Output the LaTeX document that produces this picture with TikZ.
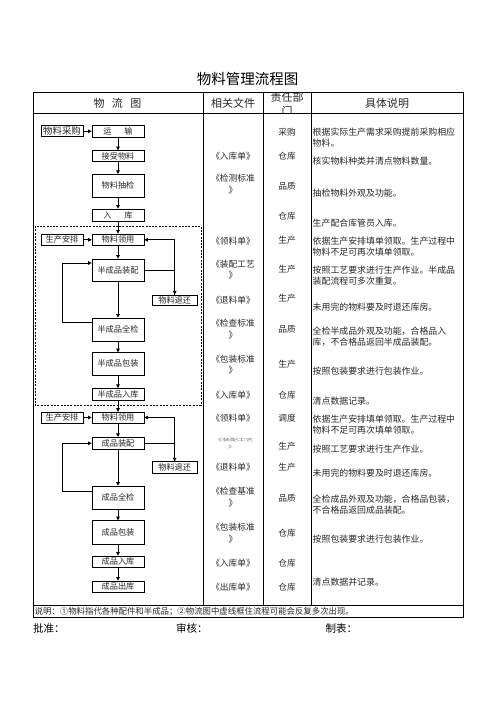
\documentclass[tikz,border=0pt]{standalone}
\usepackage{fontspec}
\setmainfont{Noto Sans CJK SC}
\usetikzlibrary{arrows.meta}
\newcommand\fsbox{\fontsize{8.2}{10}\selectfont}
\newcommand\fsbig{\fontsize{9.4}{11}\selectfont}
\newcommand\fsdoc{\fontsize{8.7}{11.8}\selectfont}
\newcommand\fsdesc{\fontsize{8.9}{10.8}\selectfont}
\newcommand\fshead{\fontsize{11}{13}\selectfont}
\newcommand\fstitle{\fontsize{14.5}{17}\selectfont}
\newcommand\fsnote{\fontsize{8.4}{10}\selectfont}
\newcommand\fssign{\fontsize{10.5}{12}\selectfont}
\begin{document}
\begin{tikzpicture}[x=1pt,y=-1pt,
  fb/.style={draw, line width=0.7pt, minimum width=52pt, inner sep=0pt, font=\fsbox, text=black!85},
  arr/.style={line width=0.7pt, -{Triangle[length=3.6pt,width=3.6pt]}},
  tab/.style={line width=0.8pt},
  dbox/.style={line width=0.7pt, dash pattern=on 2pt off 1.3pt},
  hd/.style={font=\fshead, inner sep=0pt, text=black!85},
  doc/.style={font=\fsdoc, inner sep=0pt, align=center, text=black!85},
  dep/.style={font=\fsdoc, inner sep=0pt, text=black!85},
  desc/.style={font=\fsdesc, inner sep=0pt, anchor=west, align=left, text=black!85}]
\useasboundingbox (0,0) rectangle (496,702);

% title
\node[font=\fstitle, inner sep=0pt] (title) at (247.5,78.5) {物料管理流程图};

% table frame
\draw[tab] (33,92) rectangle (463,617);
\draw[tab] (33,113) -- (463,113);
\draw[tab] (33,605) -- (463,605);
\draw[tab] (203,92) -- (203,605);
\draw[tab] (263,92) -- (263,605);
\draw[tab] (311,92) -- (311,605);

% header
\node[hd] (h1) at (117.5,103) {物\hspace{7.5pt}流\hspace{7.5pt}图};
\node[hd] (h2) at (233,103) {相关文件};
\node[hd] (h4) at (387,103) {具体说明};
\begin{scope}
  \clip (263.5,92.5) rectangle (310.5,112.5);
  \node[hd] (h3a) at (287,97) {责任部};
  \node[hd] (h3b) at (287,111.5) {门};
\end{scope}

% dashed frame
\draw[dbox] (35,226) rectangle (201,405);

% flow boxes
\node[fb, minimum width=42pt, minimum height=11pt, font=\fsbig] (cg) at (62,131.3) {物料采购};
\node[fb, minimum height=12pt] (ys) at (118,131.3) {运\hspace{13pt}输};
\node[fb, minimum height=10.7pt] (js) at (118,156) {接受物料};
\node[fb, minimum height=23pt] (cj) at (118,185.8) {物料抽检};
\node[fb, minimum height=12pt] (rk) at (118,215) {入\hspace{13pt}库};

\node[fb, minimum width=42pt, minimum height=11.7pt] (ap1) at (62,239.8) {生产安排};
\node[fb, minimum height=11.7pt] (ly1) at (118,239.8) {物料领用};
\node[fb, minimum height=22pt] (zp1) at (118,270) {半成品装配};
\node[fb, minimum width=45pt, minimum height=10.7pt] (th1) at (174.7,300.2) {物料退还};
\node[fb, minimum height=23pt] (qj1) at (118,329.5) {半成品全检};
\node[fb, minimum height=22.3pt] (bz1) at (118,363.8) {半成品包装};
\node[fb, minimum height=11.7pt] (rk1) at (118,394.2) {半成品入库};

\node[fb, minimum width=42pt, minimum height=10.7pt] (ap2) at (62,417.5) {生产安排};
\node[fb, minimum height=10.7pt] (ly2) at (118,417.5) {物料领用};
\node[fb, minimum height=12pt] (zp2) at (118,443.3) {成品装配};
\node[fb, minimum width=45pt, minimum height=11.6pt] (th2) at (174.7,467.5) {物料退还};
\node[fb, minimum height=23.3pt] (qj2) at (118,497.7) {成品全检};
\node[fb, minimum height=23.3pt] (bz2) at (118,532.3) {成品包装};
\node[fb, minimum height=11.7pt] (rk2) at (118,561.8) {成品入库};
\node[fb, minimum height=11.7pt] (ck2) at (118,586.8) {成品出库};

% straight arrows
\draw[arr] (cg) -- (ys);
\draw[arr] (ys) -- (js);
\draw[arr] (js) -- (cj);
\draw[arr] (cj) -- (rk);
\draw[arr] (rk) -- (ly1);
\draw[arr] (ap1) -- (ly1);
\draw[arr] (ly1) -- (zp1);
\draw[arr] (zp1) -- (qj1);
\draw[arr] (qj1) -- (bz1);
\draw[arr] (bz1) -- (rk1);
\draw[arr] (rk1) -- (ly2);
\draw[arr] (ap2) -- (ly2);
\draw[arr] (ly2) -- (zp2);
\draw[arr] (zp2) -- (qj2);
\draw[arr] (qj2) -- (bz2);
\draw[arr] (bz2) -- (rk2);
\draw[arr] (rk2) -- (ck2);

% right loops (return of material)
\draw[arr] (zp1.east) -| (th1.north);
\draw[arr] (th1.north) |- (ly1.east);
\draw[arr] (zp2.east) -| (th2.north);
\draw[arr] (th2.north) |- (ly2.east);

% left loops (rework)
\coordinate (L1t) at (62,263);
\coordinate (L1b) at (62,322.5);
\draw[arr] (qj1.west |- L1b) -- (L1b) -- (L1t) -- (zp1.west |- L1t);
\coordinate (L2t) at (62,443.3);
\coordinate (L2b) at (62,491.7);
\draw[arr] (qj2.west |- L2b) -- (L2b) -- (L2t) -- (zp2.west);

% column 2: documents
\node[doc] (c1) at (233,156.5) {《入库单》};
\node[doc] (c2) at (233,184.3) {《检测标准\\》};
\node[doc] (c3) at (233,240.7) {《领料单》};
\node[doc] (c4) at (233,269.6) {《装配工艺\\》};
\node[doc] (c5) at (233,299.7) {《退料单》};
\node[doc] (c6) at (233,329.5) {《检查标准\\》};
\node[doc] (c7) at (233,364.7) {《包装标准\\》};
\node[doc] (c8) at (233,395) {《入库单》};
\node[doc] (c9) at (233,418.3) {《领料单》};
\node[doc, text=black!55] (c10a) at (234,440) {\scalebox{0.9}[0.45]{《装配工艺}};
\node[doc, text=black!55] (c10b) at (232,447.5) {\scalebox{0.9}[0.45]{》}};
\node[doc] (c11) at (233,467) {《退料单》};
\node[doc] (c12) at (233,497.2) {《检查基准\\》};
\node[doc] (c13) at (233,533) {《包装标准\\》};
\node[doc] (c14) at (233,563.3) {《入库单》};
\node[doc] (c15) at (233,587.3) {《出库单》};

% column 3: departments
\node[dep] (d1) at (287,131.7) {采购};
\node[dep] (d2) at (287,156.7) {仓库};
\node[dep] (d3) at (287,186) {品质};
\node[dep] (d4) at (287,216) {仓库};
\node[dep] (d5) at (287,240.7) {生产};
\node[dep] (d6) at (287,269.7) {生产};
\node[dep] (d7) at (287,298) {生产};
\node[dep] (d8) at (287,329) {品质};
\node[dep] (d9) at (287,364.5) {生产};
\node[dep] (d10) at (287,395) {仓库};
\node[dep] (d11) at (287,418) {调度};
\node[dep] (d12) at (287,446) {生产};
\node[dep] (d13) at (287,467) {生产};
\node[dep] (d14) at (287,498) {品质};
\node[dep] (d15) at (287,533) {仓库};
\node[dep] (d16) at (287,563) {仓库};
\node[dep] (d17) at (287,587) {仓库};

% column 4: descriptions
\node[desc] (e1) at (312.5,137.3) {根据实际生产需求采购提前采购相应\\物料。};
\node[desc] (e2) at (312.5,161.5) {核实物料种类并清点物料数量。};
\node[desc] (e3) at (312.5,193) {抽检物料外观及功能。};
\node[desc] (e4) at (312.5,223) {生产配合库管员入库。};
\node[desc] (e5) at (312.5,246.6) {依据生产安排填单领取。生产过程中\\物料不足可再次填单领取。};
\node[desc] (e6) at (312.5,275.7) {按照工艺要求进行生产作业。半成品\\装配流程可多次重复。};
\node[desc] (e7) at (312.5,307.5) {未用完的物料要及时退还库房。};
\node[desc] (e8) at (312.5,336.3) {全检半成品外观及功能，合格品入\\库，不合格品返回半成品装配。};
\node[desc] (e9) at (312.5,371.5) {按照包装要求进行包装作业。};
\node[desc] (e10) at (312.5,401) {清点数据记录。};
\node[desc] (e11) at (312.5,425) {依据生产安排填单领取。生产过程中\\物料不足可再次填单领取。};
\node[desc] (e12) at (312.5,449.3) {按照工艺要求进行生产作业。};
\node[desc] (e13) at (312.5,473.3) {未用完的物料要及时退还库房。};
\node[desc] (e14) at (312.5,504.3) {全检成品外观及功能，合格品包装，\\不合格品返回成品装配。};
\node[desc] (e15) at (312.5,539.3) {按照包装要求进行包装作业。};
\node[desc] (e16) at (312.5,581.7) {清点数据并记录。};

% note and signatures
\node[font=\fsnote, inner sep=0pt, anchor=west, text=black!85] (note) at (34.5,611.2) {说明：①物料指代各种配件和半成品；②物流图中虚线框住流程可能会反复多次出现。};
\node[font=\fssign, inner sep=0pt, anchor=west] (s1) at (33,628.5) {批准：};
\node[font=\fssign, inner sep=0pt, anchor=west] (s2) at (176,628.5) {审核：};
\node[font=\fssign, inner sep=0pt, anchor=west] (s3) at (325.5,628.5) {制表：};
\end{tikzpicture}
\end{document}
